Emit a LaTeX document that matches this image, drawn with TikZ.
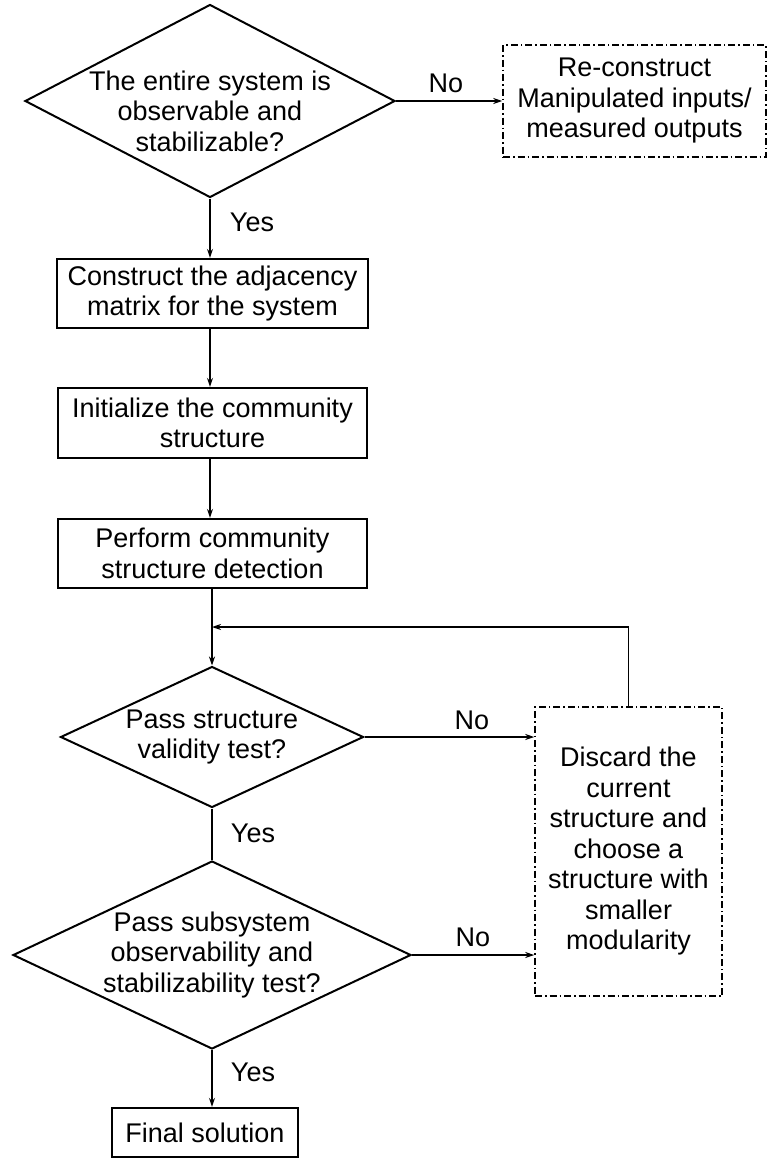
\documentclass[tikz,border=0pt]{standalone}
\usepackage{fontspec}
\setmainfont{Liberation Sans}
\usetikzlibrary{shapes.geometric, arrows.meta, positioning}
\newcommand{\flowfont}{\fontsize{27pt}{30.5pt}\selectfont}
\tikzset{
    stepbox/.style={rectangle, draw, line width=2.3pt, align=center, inner sep=0pt, font=\flowfont},
    altbox/.style={rectangle, draw, line width=1.5pt, dash pattern=on 7pt off 3pt on 1.5pt off 3pt,
                   align=center, inner sep=0pt, font=\flowfont},
    decision/.style={diamond, draw, line width=2pt, align=center, inner sep=-12pt, font=\flowfont},
    arrow/.style={-{Stealth[length=9pt, width=6pt]}, line width=1.8pt},
    link/.style={line width=1.8pt},
    tag/.style={font=\flowfont},
}
\begin{document}
\begin{tikzpicture}[x=1pt, y=-1pt]
            \useasboundingbox (0,0) rectangle (767,1159);

            % first test sits a little low in its diamond
            \node[decision, aspect=1.917, minimum width=370pt, minimum height=193pt] (check) at (210, 101)
                {\rule{0pt}{40pt}The entire system is\\observable and\\stabilizable?};
            \node[altbox, minimum width=263pt, minimum height=112pt] (recon) at (634.5, 101)
                {Re-construct\\Manipulated inputs/\\measured outputs};

            \node[stepbox, minimum width=311pt, minimum height=69pt] (adj) at (212.5, 293.5)
                {Construct the adjacency\\matrix for the system};
            \node[stepbox, minimum width=309pt, minimum height=70pt] (init) at (212.5, 423)
                {Initialize the community\\structure};
            \node[stepbox, minimum width=309pt, minimum height=69pt] (detect) at (212.5, 553.5)
                {Perform community\\structure detection};

            \coordinate (merge) at (212, 627);
            \node[decision, aspect=2.15, minimum width=303pt, minimum height=141pt] (valid) at (212, 737)
                {Pass structure\\validity test?};
            \node[decision, aspect=2.12, minimum width=398pt, minimum height=188pt] (subsys) at (212, 955)
                {Pass subsystem\\observability and\\stabilizability test?};
            \node[altbox, minimum width=187pt, minimum height=289pt] (discard) at (628.5, 851.5)
                {Discard the\\current\\structure and\\choose a\\structure with\\smaller\\modularity};

            \node[stepbox, minimum width=186pt, minimum height=49pt] (final) at (205, 1132.5) {Final solution};

            % branch labels
            \node[tag] (no1) at (446, 83) {No};
            \node[tag] (yes1) at (252, 222) {Yes};
            \node[tag] (no2) at (472, 720) {No};
            \node[tag] (yes2) at (253, 833) {Yes};
            \node[tag] (no3) at (473, 937) {No};
            \node[tag] (yes3) at (253, 1072) {Yes};

            \draw[arrow] (check.east) -- (recon.west);
            \draw[arrow] (check.south) -- (check.south |- adj.north);
            \draw[arrow] (adj.south -| check.south) -- (init.north -| check.south);
            \draw[arrow] (init.south -| check.south) -- (detect.north -| check.south);
            \draw[arrow] (detect.south -| valid.north) -- (valid.north);
            \draw[arrow] (discard.north) |- (merge);
            \draw[arrow] (valid.east) -- (valid.east -| discard.west);
            \draw[link] (valid.south) -- (subsys.north);
            \draw[arrow] (subsys.east) -- (subsys.east -| discard.west);
            \draw[arrow] (subsys.south) -- (subsys.south |- final.north);
        \end{tikzpicture}
\end{document}
